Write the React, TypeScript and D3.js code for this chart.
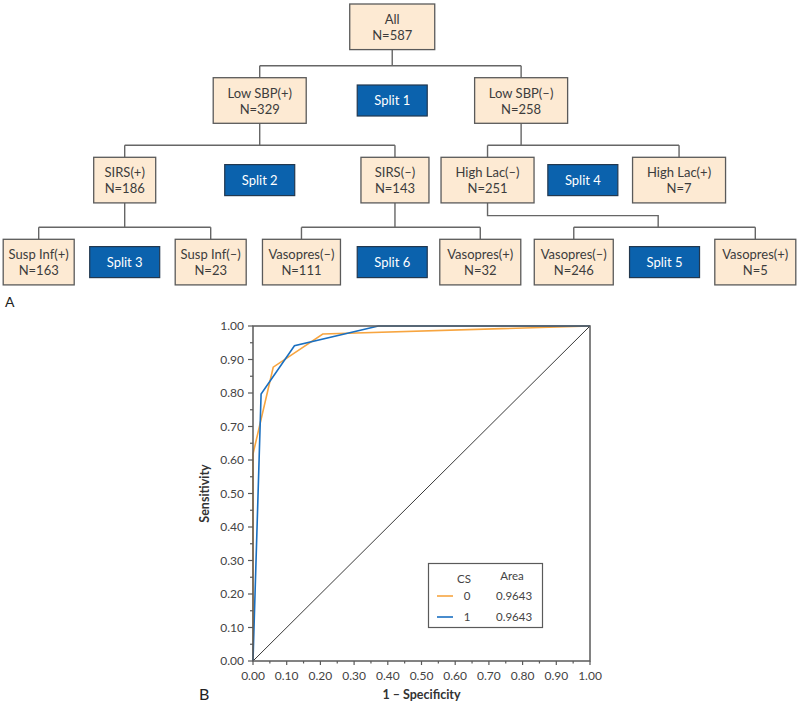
import React from "react";
import * as d3 from "d3";

// ---------- DATA ----------
const nodeNames = ["All", "Low SBP(+)", "Low SBP(–)", "SIRS(+)", "SIRS(–)", "High Lac(–)", "High Lac(+)",
  "Susp Inf(+)", "Susp Inf(–)", "Vasopres(–)", "Vasopres(+)", "Vasopres(–)", "Vasopres(+)"];
const nodeCounts = [587, 329, 258, 186, 143, 251, 7, 163, 23, 111, 32, 246, 5];
const nodeParents = [-1, 0, 0, 1, 1, 2, 2, 3, 3, 4, 4, 5, 5];
const nodeLevels = [0, 1, 1, 2, 2, 2, 2, 3, 3, 3, 3, 3, 3];
const splitLabels = ["Split 1", "Split 2", "Split 3", "Split 4", "Split 5", "Split 6"];
const splitLevels = [1, 2, 3, 2, 3, 3];

const rocX0 = [0, 0, 0.06, 0.207, 1];
const rocY0 = [0, 0.618, 0.877, 0.976, 1];
const rocX1 = [0, 0.024, 0.123, 0.372, 1];
const rocY1 = [0, 0.797, 0.941, 1, 1];
const seriesNames = ["0", "1"];
const seriesAreas = ["0.9643", "0.9643"];
const tickValues = [0, 0.1, 0.2, 0.3, 0.4, 0.5, 0.6, 0.7, 0.8, 0.9, 1.0];
const minorTickValues = [0.05, 0.15, 0.25, 0.35, 0.45, 0.55, 0.65, 0.75, 0.85, 0.95];

// ---------- LAYOUT ----------
const nodeSlots = [4, 2.54, 5.42, 1, 4.03, 5.05, 7.16, 0, 2, 3, 4.97, 6, 8];
const nodeWidths = [85, 93, 93, 62, 68, 93, 93, 71, 71, 78, 81, 79, 81];
const splitSlots = [4, 2.54, 1, 6.1, 7, 4];
const junctionSlots: Record<number, number> = { 5: 6.93 };

const FONT = "Lato, 'Open Sans', sans-serif";
const PEACH = "#fdead3";
const BOX_STROKE = "#5a5a5a";
const BLUE_BOX = "#0b62ad";
const ORANGE = "#f7a540";
const BLUE = "#1a6fc0";
const TEXT = "#3c3c3c";

export default function App() {
  const slotX = d3.scaleLinear().domain([0, 2, 8]).range([38.7, 210.7, 755.3]);
  const rowTop = d3.scaleLinear().domain([0, 1, 2, 3]).range([4, 77.7, 157.3, 239.3]);
  const NODE_H = 45.6;
  const SPLIT_H = 31;
  const SPLIT_W = 70;

  const nodes = nodeNames.map((name, i) => {
    const cx = slotX(nodeSlots[i]);
    const top = rowTop(nodeLevels[i]);
    return { i, name, n: nodeCounts[i], cx, top, w: nodeWidths[i], parent: nodeParents[i] };
  });

  const connectors: string[] = [];
  nodes.forEach((p) => {
    const kids = nodes.filter((c) => c.parent === p.i);
    if (!kids.length) return;
    const busY = kids[0].top - 12;
    const bottom = p.top + NODE_H;
    let d = `M${p.cx},${bottom}`;
    if (junctionSlots[p.i] !== undefined) {
      const jx = slotX(junctionSlots[p.i]);
      const midY = bottom + 12.7;
      d += ` V${midY} H${jx} V${busY}`;
    } else {
      d += ` V${busY}`;
    }
    connectors.push(d);
    const xs = kids.map((k) => k.cx);
    connectors.push(`M${d3.min(xs)},${busY} H${d3.max(xs)}`);
    kids.forEach((k) => connectors.push(`M${k.cx},${busY} V${k.top}`));
  });

  // ROC scales
  const x = d3.scaleLinear().domain([0, 1]).range([253, 590]);
  const y = d3.scaleLinear().domain([0, 1]).range([661, 326]);
  const line = d3.line<[number, number]>().x((d) => x(d[0])).y((d) => y(d[1]));
  const s0: [number, number][] = rocX0.map((v, i) => [v, rocY0[i]]);
  const s1: [number, number][] = rocX1.map((v, i) => [v, rocY1[i]]);
  const fmt = d3.format(".2f");
  const colors = [ORANGE, BLUE];

  return (
    <svg width={800} height={715} style={{ position: "absolute", left: 0, top: 0, background: "#fff" }}
      fontFamily={FONT}>
      {/* Tree */}
      <g fill="none" stroke="#666" strokeWidth={1.4}>
        {connectors.map((d, i) => <path key={i} d={d} />)}
      </g>
      {nodes.map((nd) => (
        <g key={"n" + nd.i}>
          <rect x={nd.cx - nd.w / 2} y={nd.top} width={nd.w} height={NODE_H}
            fill={PEACH} stroke={BOX_STROKE} strokeWidth={1.3} />
          <text x={nd.cx} y={nd.top + NODE_H / 2 - 3} textAnchor="middle" fontSize={13} fill={TEXT}>{nd.name}</text>
          <text x={nd.cx} y={nd.top + NODE_H / 2 + 13} textAnchor="middle" fontSize={13} fill={TEXT}>{"N=" + nd.n}</text>
        </g>
      ))}
      {splitLabels.map((lab, i) => {
        const cx = slotX(splitSlots[i]);
        const cy = rowTop(splitLevels[i]) + NODE_H / 2;
        return (
          <g key={"s" + i}>
            <rect x={cx - SPLIT_W / 2} y={cy - SPLIT_H / 2} width={SPLIT_W} height={SPLIT_H}
              fill={BLUE_BOX} stroke="#22384f" strokeWidth={1.2} />
            <text x={cx} y={cy + 4.5} textAnchor="middle" fontSize={13} fill="#fff">{lab}</text>
          </g>
        );
      })}
      <text x={5} y={307} fontSize={14} fill="#222">A</text>

      {/* ROC */}
      <line x1={x(0)} y1={y(0)} x2={x(1)} y2={y(1)} stroke="#222" strokeWidth={0.9} />
      <path d={line(s0) || ""} fill="none" stroke={ORANGE} strokeWidth={1.6} />
      <path d={line(s1) || ""} fill="none" stroke={BLUE} strokeWidth={1.6} />
      <rect x={x(0)} y={y(1)} width={x(1) - x(0)} height={y(0) - y(1)} fill="none" stroke="#5a5a5a" strokeWidth={1.5} />
      <g stroke="#5a5a5a" strokeWidth={1.2}>
        {tickValues.map((t) => <line key={"yt" + t} x1={x(0) - 5} x2={x(0)} y1={y(t)} y2={y(t)} />)}
        {minorTickValues.map((t) => <line key={"ym" + t} x1={x(0) - 3} x2={x(0)} y1={y(t)} y2={y(t)} />)}
        {tickValues.map((t) => <line key={"xt" + t} x1={x(t)} x2={x(t)} y1={y(0)} y2={y(0) + 4} />)}
        {minorTickValues.map((t) => <line key={"xm" + t} x1={x(t)} x2={x(t)} y1={y(0)} y2={y(0) + 2.5} />)}
      </g>
      <g fontSize={12} fill="#444">
        {tickValues.map((t) => (
          <text key={"yl" + t} x={x(0) - 9} y={y(t) + 4.2} textAnchor="end">{fmt(t)}</text>
        ))}
        {tickValues.map((t) => (
          <text key={"xl" + t} x={x(t)} y={y(0) + 18.5} textAnchor="middle">{fmt(t)}</text>
        ))}
      </g>
      <text x={(x(0) + x(1)) / 2} y={699} textAnchor="middle" fontSize={12.5} fontWeight="bold" fill="#333">1 – Specificity</text>
      <text transform={`translate(209,${(y(0) + y(1)) / 2}) rotate(-90)`} textAnchor="middle" fontSize={12.5} fontWeight="bold" fill="#333">Sensitivity</text>
      <text x={199} y={700} fontSize={16} fill="#222">B</text>

      {/* Legend */}
      <rect x={428.5} y={563.5} width={114} height={64} fill="#fff" stroke="#5a5a5a" strokeWidth={1.2} />
      <g fontSize={11.5} fill="#444">
        <text x={464} y={583} textAnchor="middle">CS</text>
        <text x={512} y={580} textAnchor="middle">Area</text>
        {seriesNames.map((nm, i) => (
          <g key={"lg" + i}>
            <line x1={437} x2={453} y1={596 + i * 21} y2={596 + i * 21} stroke={colors[i]} strokeWidth={1.6} />
            <text x={467} y={600 + i * 21} textAnchor="middle">{nm}</text>
            <text x={496} y={600 + i * 21}>{seriesAreas[i]}</text>
          </g>
        ))}
      </g>
    </svg>
  );
}
